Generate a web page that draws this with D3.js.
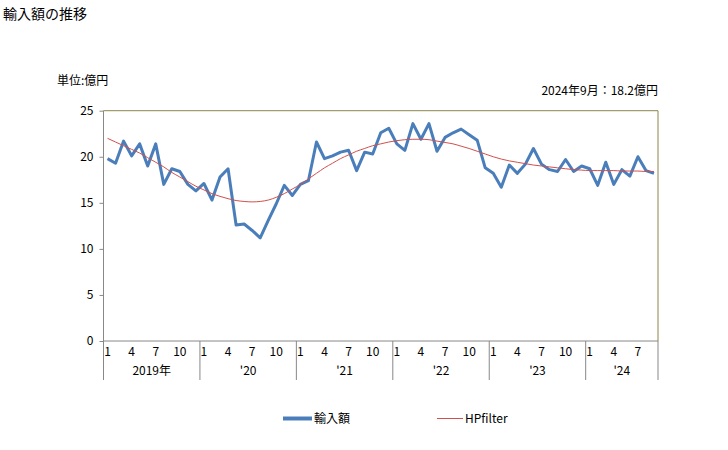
<!DOCTYPE html>
<html><head><meta charset="utf-8">
<script src="https://cdn.jsdelivr.net/npm/d3@7"></script>
<style>body{margin:0;background:#fff}svg{display:block}text{font-family:"Noto Sans CJK JP","Noto Sans",sans-serif;fill:#000}</style>
</head><body><svg id="c" width="728" height="450"></svg>
<script>
const years = ["2019年","'20","'21","'22","'23","'24"];
const monthTicks = [1,4,7,10];
const yTicks = [0,5,10,15,20,25];
const imports = [
 19.8,19.3,21.7,20.1,21.4,19.0,21.4,17.0,18.7,18.4,17.0,16.3,
 17.1,15.3,17.8,18.7,12.6,12.7,12.0,11.2,13.1,14.9,16.9,15.8,
 17.0,17.4,21.6,19.8,20.1,20.5,20.7,18.5,20.5,20.3,22.6,23.1,
 21.4,20.7,23.6,21.9,23.6,20.6,22.1,22.6,23.0,22.4,21.8,18.8,
 18.2,16.7,19.1,18.2,19.2,20.9,19.2,18.6,18.4,19.7,18.4,19.0,
 18.7,16.9,19.4,17.0,18.6,17.9,20.0,18.5,18.2];
const hp = [
 22.0,21.6,21.2,20.8,20.4,19.9,19.4,18.9,18.3,17.8,17.3,16.8,
 16.4,16.0,15.7,15.45,15.25,15.15,15.1,15.15,15.3,15.6,16.0,16.5,
 17.0,17.6,18.2,18.8,19.3,19.8,20.2,20.6,20.9,21.2,21.4,21.6,
 21.75,21.85,21.9,21.9,21.85,21.7,21.55,21.4,21.15,20.9,20.6,20.3,
 20.0,19.75,19.55,19.4,19.25,19.1,19.0,18.9,18.8,18.7,18.6,18.55,
 18.5,18.5,18.5,18.5,18.45,18.45,18.45,18.4,18.4];
const title = "輸入額の推移";
const unit = "単位:億円";
const note = "2024年9月：18.2億円";
const seriesNames = ["輸入額","HPfilter"];

const svg = d3.select("#c");
const L=103.5, R=658, T=110.7, B=341;
const idx = d3.range(imports.length);
const x = d3.scaleBand().domain(idx).range([L,R]).padding(0);
const cx = i => x(i)+x.bandwidth()/2;
const y = d3.scaleLinear().domain([0,25]).range([B,T]);
const gray="#888", olive="#8c8646", blue="#4a7ebb", red="#d0504d";

svg.append("text").attr("x",3).attr("y",19).attr("font-size",14).text(title);
svg.append("text").attr("x",57).attr("y",85).attr("font-size",12).text(unit);
svg.append("text").attr("x",R).attr("y",95).attr("font-size",12).attr("text-anchor","end").text(note);

// frame top/right
svg.append("line").attr("x1",L).attr("x2",R).attr("y1",T).attr("y2",T).attr("stroke",olive);
svg.append("line").attr("x1",R).attr("x2",R).attr("y1",T).attr("y2",B).attr("stroke",olive);

// y axis
const ya = svg.append("g").attr("transform",`translate(${L},0)`)
  .call(d3.axisLeft(y).tickValues(yTicks).tickSize(4).tickPadding(6));
ya.select(".domain").remove();
ya.selectAll("line").attr("stroke",gray);
ya.selectAll("text").attr("font-size",12).style("font-family",'"Noto Sans CJK JP",sans-serif');
svg.append("line").attr("x1",L).attr("x2",L).attr("y1",T).attr("y2",380).attr("stroke",gray);
svg.append("line").attr("x1",L).attr("x2",R).attr("y1",B).attr("y2",B).attr("stroke",gray);

// x axis: months & years
const monthIdx = idx.filter(i => monthTicks.includes(i%12+1));
svg.append("g").selectAll("text").data(monthIdx).join("text")
  .attr("x",i=>cx(i)).attr("y",356).attr("font-size",12).attr("text-anchor","middle")
  .text(i=>i%12+1);
const yearStarts = years.map((d,k)=>k*12);
svg.append("g").selectAll("line").data(yearStarts.concat([imports.length-1])).join("line")
  .attr("x1",(d,k)=>k<years.length?x(d):R).attr("x2",(d,k)=>k<years.length?x(d):R)
  .attr("y1",B).attr("y2",380).attr("stroke",gray);
svg.append("g").selectAll("text").data(years).join("text")
  .attr("x",(d,k)=>{const s=x(k*12); const e=Math.min((k+1)*12,imports.length); const en = e>=imports.length?R:x(e); return (s+en)/2;})
  .attr("y",375).attr("font-size",12).attr("text-anchor","middle").text(d=>d);

// lines
const line = d3.line().x((d,i)=>cx(i)).y(d=>y(d));
svg.append("path").datum(imports).attr("d",line).attr("fill","none").attr("stroke",blue).attr("stroke-width",3).attr("stroke-linejoin","round");
svg.append("path").datum(hp).attr("d",line.curve(d3.curveMonotoneX)).attr("fill","none").attr("stroke",red).attr("stroke-width",1);

// legend
svg.append("line").attr("x1",283).attr("x2",312).attr("y1",418.5).attr("y2",418.5).attr("stroke",blue).attr("stroke-width",4);
svg.append("text").attr("x",314).attr("y",423).attr("font-size",12).text(seriesNames[0]);
svg.append("line").attr("x1",437).attr("x2",463).attr("y1",418.5).attr("y2",418.5).attr("stroke",red).attr("stroke-width",1);
svg.append("text").attr("x",465).attr("y",423).attr("font-size",12).text(seriesNames[1]);
</script></body></html>
